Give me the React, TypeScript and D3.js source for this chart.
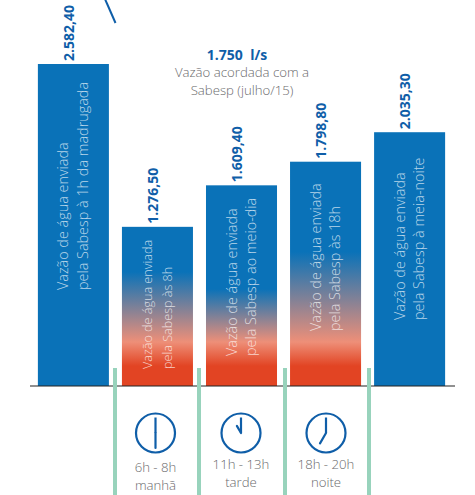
import React from "react";
import * as d3 from "d3";

const categories = ["1h", "8h", "12h", "18h", "24h"];
const values = [2582.4, 1276.5, 1609.4, 1798.8, 2035.3];
const valueLabels = ["2.582,40", "1.276,50", "1.609,40", "1.798,80", "2.035,30"];
const barLabels = [
  ["Vazão de água enviada", "pela Sabesp à 1h da madrugada"],
  ["Vazão de água enviada", "pela Sabesp às 8h"],
  ["Vazão de água enviada", "pela Sabesp ao meio-dia"],
  ["Vazão de água enviada", "pela Sabesp às 18h"],
  ["Vazão de água enviada", "pela Sabesp à meia-noite"],
];
const barGradient = [false, true, true, true, false];
const gradientBlueEnd = [0, 272, 289, 252, 0];
const barLabelSize = [14.4, 12.6, 14.4, 14.4, 14.4];
const barLabelBottom = [290, 369, 356, 331, 320];
const periods = [
  { lines: ["6h - 8h", "manhã"], hour: 6, minute: 0, hh: 1, x: 155.5 },
  { lines: ["11h - 13h", "tarde"], hour: 11, minute: 0, hh: 0.55, x: 241 },
  { lines: ["18h - 20h", "noite"], hour: 7, minute: 0, hh: 0.8, x: 326 },
];
const dividers = [115, 199, 285, 369];
const BLUE = "#0a72b8";
const DARK = "#0f5ea8";
const RED = "#e24423";
const SALMON = "#ee8f78";
const GREEN = "#98d3bc";
const GREY = "#6a6a6c";

const x = d3.scaleBand().domain(categories).range([32, 451]).paddingInner(0.155).paddingOuter(0.07);
const y = d3.scaleLinear().domain([0, 2582.4]).range([386, 64]);

export default function App() {
  const bw = x.bandwidth();
  return (
    <svg width={475} height={495} style={{ position: "absolute", left: 0, top: 0, fontFamily: "'Open Sans'" }}>
      <defs>
        {categories.map((c, i) =>
          barGradient[i] ? (
            <linearGradient key={c} id={`g${i}`} gradientUnits="userSpaceOnUse" x1="0" x2="0" y1={y(values[i])} y2={386}>
              <stop offset={(gradientBlueEnd[i] - y(values[i])) / (386 - y(values[i]))} stopColor={BLUE} />
              <stop offset={(342 - y(values[i])) / (386 - y(values[i]))} stopColor={SALMON} />
              <stop offset={(366 - y(values[i])) / (386 - y(values[i]))} stopColor={RED} />
              <stop offset={1} stopColor={RED} />
            </linearGradient>
          ) : null
        )}
      </defs>
      <line x1={105} y1={-1} x2={115.5} y2={23} stroke={DARK} strokeWidth={2} />
      {categories.map((c, i) => {
        const bx = x(c)!;
        const top = y(values[i]);
        const cx = bx + bw / 2;
        return (
          <g key={c}>
            <rect x={bx} y={top} width={bw} height={386 - top} fill={barGradient[i] ? `url(#g${i})` : BLUE} />
            <text
              transform={`translate(${cx + 0.5},${top - 3}) rotate(-90)`}
              x={0}
              y={0}
              fontSize={14.5}
              fontWeight={700}
              fill={DARK}
              textLength={valueLabels[i].length * 7}
              lengthAdjust="spacingAndGlyphs"
              dy={-5 + 5}
            >
              {valueLabels[i]}
            </text>
            <g transform={`translate(${cx},${barLabelBottom[i]}) rotate(-90)`} fontSize={barLabelSize[i]} fontWeight={300} fill="#ffffff" fillOpacity={0.72}>
              <text x={0} y={-5}>{barLabels[i][0]}</text>
              <text x={0} y={14.5}>{barLabels[i][1]}</text>
            </g>
          </g>
        );
      })}
      <line x1={30} x2={455} y1={386} y2={386} stroke="#222" strokeWidth={1.2} />
      {dividers.map((d) => (
        <rect key={d} x={d - 2} y={368} width={4} height={127} fill={GREEN} />
      ))}
      <text x={237} y={60} textAnchor="middle" fontSize={14} fontWeight={700} fill={DARK} xmlSpace="preserve">1.750  l/s</text>
      <g fontSize={13.2} fontWeight={300} fill={GREY} textAnchor="middle">
        <text x={242} y={77}>Vazão acordada com a</text>
        <text x={242} y={95}>Sabesp (julho/15)</text>
      </g>
      {periods.map((p) => {
        const cy = 433;
        const r = 19.5;
        const ang = (p.hour / 12) * 2 * Math.PI;
        const hl = 15;
        return (
          <g key={p.x}>
            <circle cx={p.x} cy={cy} r={r} fill="none" stroke={DARK} strokeWidth={2.2} />
            <line x1={p.x} y1={cy} x2={p.x} y2={cy - 15.5} stroke={DARK} strokeWidth={2.2} />
            <line
              x1={p.x}
              y1={cy}
              x2={p.x + hl * p.hh * Math.sin(ang)}
              y2={cy - hl * p.hh * Math.cos(ang)}
              stroke={DARK}
              strokeWidth={2.2}
              strokeLinecap="round"
            />
            <g fontSize={13.2} fontWeight={300} fill={GREY} textAnchor="middle">
              <text x={p.x} y={p.x < 200 ? 472 : 469}>{p.lines[0]}</text>
              <text x={p.x} y={p.x < 200 ? 490 : 487}>{p.lines[1]}</text>
            </g>
          </g>
        );
      })}
    </svg>
  );
}
